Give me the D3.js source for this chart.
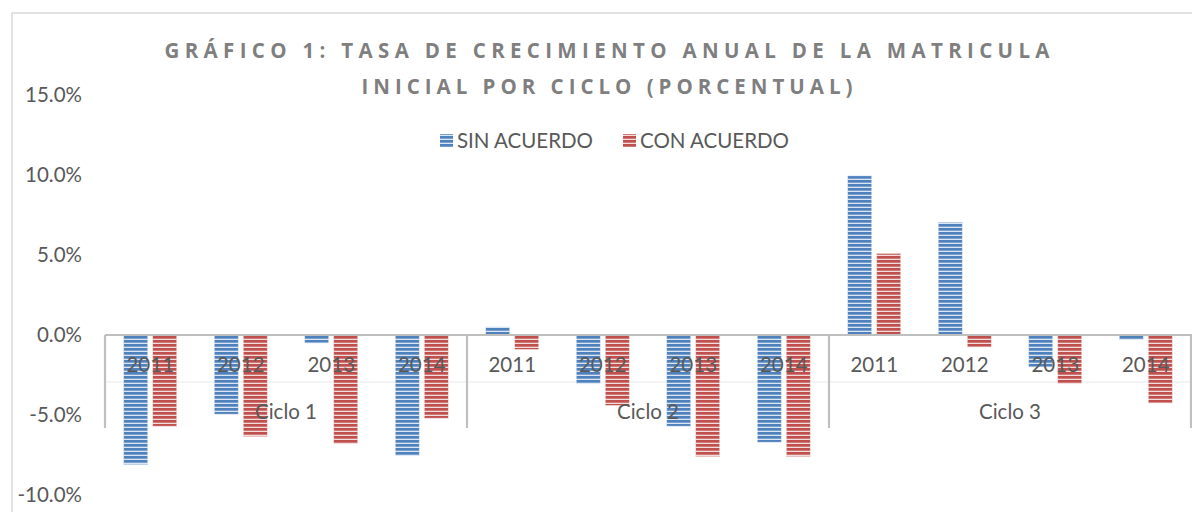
<!DOCTYPE html>
<html><head><meta charset="utf-8">
<script src="https://cdn.jsdelivr.net/npm/d3@7"></script>
<style>
html,body{margin:0;padding:0;background:#fff;}
svg{display:block;}
text{font-family:Lato,"Open Sans",sans-serif;}
.ttl{font-family:"Open Sans","Liberation Sans",sans-serif;font-weight:700;}
</style></head>
<body>
<script>
const ciclos = ["Ciclo 1","Ciclo 2","Ciclo 3"];
const years = ["2011","2012","2013","2014"];
const seriesNames = ["SIN ACUERDO","CON ACUERDO"];
const sinAcuerdo = [-8.1, -4.95, -0.5, -7.55, 0.5, -3.05, -5.7, -6.7, 9.95, 7.05, -2.0, -0.3];
const conAcuerdo = [-5.7, -6.35, -6.8, -5.2, -0.9, -4.4, -7.6, -7.6, 5.1, -0.75, -3.05, -4.25];
const yTicks = [-10, -5, 0, 5, 10, 15];
const titleLines = ["GRÁFICO 1: TASA DE CRECIMIENTO ANUAL DE LA MATRICULA","INICIAL POR CICLO (PORCENTUAL)"];

const W = 1192, H = 512;
const colors = ["#4f81bd", "#c0504d"];
const lights = ["#dbe5f3", "#f2dcdb"];

const svg = d3.select("body").append("svg").attr("width", W).attr("height", H);
const defs = svg.append("defs");
colors.forEach((c, i) => {
  const p = defs.append("pattern").attr("id", "pat" + i)
    .attr("patternUnits", "userSpaceOnUse").attr("width", 8).attr("height", 4);
  p.append("rect").attr("width", 8).attr("height", 4).attr("fill", lights[i]);
  p.append("rect").attr("y", 0).attr("width", 8).attr("height", 2.7).attr("fill", c);
});

// chart frame
svg.append("path").attr("d", `M12,${H}V13H${W}`).attr("fill", "none")
  .attr("stroke", "#d9d9d9").attr("stroke-width", 1.5);

const keys = [];
ciclos.forEach(c => years.forEach(y => keys.push(c + "|" + y)));
const rows = keys.map((k, i) => ({key: k, ciclo: k.split("|")[0], year: k.split("|")[1], vals: [sinAcuerdo[i], conAcuerdo[i]]}));

const x0 = d3.scaleBand().domain(keys).range([105, 1191]).padding(0);
const xg = d3.scaleBand().domain(ciclos).range([105, 1191]).padding(0);
const x1 = d3.scaleBand().domain([0, 1]).range([0, x0.bandwidth()]).paddingInner(0.172).paddingOuter(0.646);
const y = d3.scaleLinear().domain([-10, 15]).range([495, 95]);

// y axis labels
const yAxis = d3.axisLeft(y).tickValues(yTicks).tickSize(0).tickPadding(0)
  .tickFormat(d => d.toFixed(1) + "%");
const ga = svg.append("g").attr("transform", "translate(82,0)").call(yAxis);
ga.select(".domain").remove();
ga.selectAll("text").attr("font-size", 20.5).attr("fill", "#595959")
  .attr("font-family", "Lato,'Open Sans',sans-serif");

// faint separator
svg.append("line").attr("x1", 105).attr("x2", 1191).attr("y1", 382).attr("y2", 382)
  .attr("stroke", "#e8e8e8").attr("stroke-width", 1);

// bars
const g = svg.append("g");
rows.forEach(r => {
  r.vals.forEach((v, i) => {
    g.append("rect")
      .attr("x", x0(r.key) + x1(i))
      .attr("width", x1.bandwidth())
      .attr("y", y(Math.max(0, v)))
      .attr("height", Math.abs(y(v) - y(0)))
      .attr("fill", `url(#pat${i})`)
      .attr("stroke", lights[i]).attr("stroke-width", 0.6);
  });
});

// zero axis line
svg.append("line").attr("x1", 105).attr("x2", 1192).attr("y1", y(0)).attr("y2", y(0))
  .attr("stroke", "#bfbfbf").attr("stroke-width", 2.2);

// group boundary ticks
const bounds = ciclos.map(c => xg(c)).concat([xg.range()[1]]);
svg.selectAll(".gb").data(bounds).enter().append("line")
  .attr("x1", d => d).attr("x2", d => d).attr("y1", y(0)).attr("y2", 428)
  .attr("stroke", "#bfbfbf").attr("stroke-width", 2.2);

// x axis year labels
const xAxis = d3.axisBottom(x0).tickSize(0).tickPadding(0).tickFormat(k => k.split("|")[1]);
const gx = svg.append("g").attr("transform", "translate(0,357)").call(xAxis);
gx.select(".domain").remove();
gx.selectAll("text").attr("font-size", 20.5).attr("fill", "#595959")
  .attr("font-family", "Lato,'Open Sans',sans-serif");

// ciclo labels
const gAxis = d3.axisBottom(xg).tickSize(0).tickPadding(0);
const gg = svg.append("g").attr("transform", "translate(0,404)").call(gAxis);
gg.select(".domain").remove();
gg.selectAll("text").attr("font-size", 20.5).attr("fill", "#595959")
  .attr("font-family", "Lato,'Open Sans',sans-serif");

// title
const tl = [[885, 58], [491, 94]];
titleLines.forEach((t, i) => {
  svg.append("text").attr("class", "ttl").attr("x", 607).attr("y", tl[i][1]).attr("text-anchor", "middle")
    .attr("font-size", 20.5).attr("fill", "#7f7f7f")
    .attr("textLength", tl[i][0]).attr("lengthAdjust", "spacing").text(t);
});

// legend
const lg = svg.append("g");
let lx = 440;
seriesNames.forEach((s, i) => {
  lg.append("rect").attr("x", lx).attr("y", 134).attr("width", 13).attr("height", 13)
    .attr("fill", `url(#pat${i})`);
  const t = lg.append("text").attr("x", lx + 17).attr("y", 148).attr("font-size", 20.5)
    .attr("fill", "#595959").text(s);
  lx += 17 + t.node().getComputedTextLength() + 30;
});
</script>
</body></html>
